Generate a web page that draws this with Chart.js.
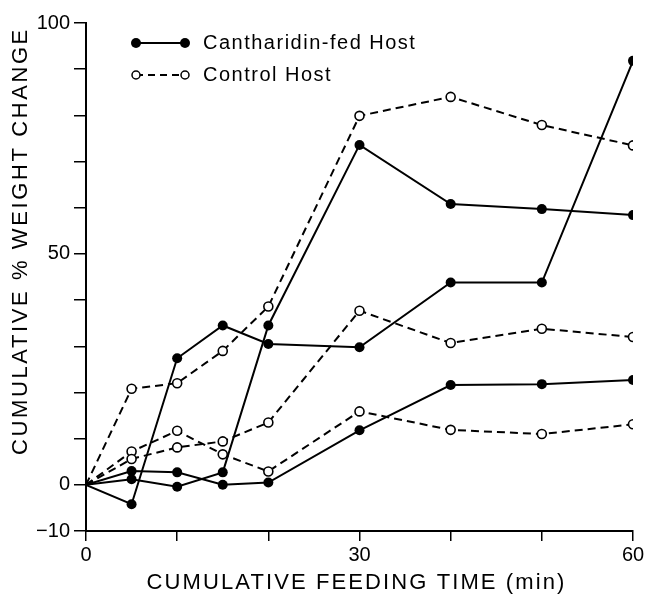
<!DOCTYPE html>
<html>
<head>
<meta charset="utf-8">
<script src="https://cdn.jsdelivr.net/npm/chart.js@4"></script>
<style>
  html, body { margin: 0; padding: 0; background: #fff; }
  #wrap { width: 651px; height: 595px; }
</style>
</head>
<body>
<div id="wrap"><canvas id="weightChart" width="651" height="595"></canvas></div>
<script>
// feeding time (min)
const times = [0, 5, 10, 15, 20, 30, 40, 50, 60];

// cantharidin-fed host, three individuals
const fedA = [0, -4.2, 27.4, 34.5, 30.5, 29.8, 43.8, 43.8, 91.8];
const fedB = [0, 1.2, -0.4, 2.7, 34.5, 73.6, 60.8, 59.7, 58.4];
const fedC = [0, 3.0, 2.7, 0, 0.5, 11.8, 21.6, 21.8, 22.7];

// control host, three individuals
const ctlA = [0, 20.8, 22.0, 29.0, 38.6, 79.9, 84.0, 77.9, 73.5];
const ctlB = [0, 5.6, 8.1, 9.4, 13.5, 37.7, 30.7, 33.8, 32.0];
const ctlC = [0, 7.2, 11.7, 6.6, 2.9, 15.9, 11.9, 11.0, 13.1];

const yLabels = [-10, 0, 50, 100];
const xLabels = [0, 30, 60];
const legendNames = ['Cantharidin-fed Host', 'Control Host'];
const xTitle = 'CUMULATIVE FEEDING TIME (min)';
const yTitle = 'CUMULATIVE % WEIGHT CHANGE';

const font = "'Liberation Sans', Arial, sans-serif";

function pts(arr) {
    return times.map((t, i) => ({ x: t, y: arr[i] }));
}

function fedSet(arr) {
    return {
        data: pts(arr),
        borderColor: '#000',
        backgroundColor: '#000',
        borderWidth: 2,
        pointRadius: times.map(t => t === 0 ? 0 : 5),
        pointBorderWidth: 0,
        pointBackgroundColor: '#000',
        tension: 0,
    };
}

function ctlSet(arr) {
    return {
        data: pts(arr),
        borderColor: '#000',
        backgroundColor: '#fff',
        borderWidth: 2,
        borderDash: [8, 5],
        pointRadius: times.map(t => t === 0 ? 0 : 4.5),
        pointBorderWidth: 1.6,
        pointBackgroundColor: '#fff',
        pointBorderColor: '#000',
        tension: 0,
    };
}

// legend with dot-line-dot samples, and the two axis titles
const paperBits = {
    id: 'paperBits',
    afterDraw(chart) {
        const c = chart.ctx;
        const area = chart.chartArea;
        c.save();
        const x0 = area.left + 50, x1 = area.left + 99, tx = area.left + 117;
        const rows = [area.top + 20, area.top + 52];
        rows.forEach((y, i) => {
            c.strokeStyle = '#000';
            c.lineWidth = 2;
            c.setLineDash(i === 0 ? [] : [7, 5]);
            c.beginPath();
            c.moveTo(x0, y);
            c.lineTo(x1, y);
            c.stroke();
            c.setLineDash([]);
            [x0, x1].forEach(px => {
                c.beginPath();
                c.arc(px, y, i === 0 ? 5 : 4, 0, Math.PI * 2);
                c.fillStyle = i === 0 ? '#000' : '#fff';
                c.fill();
                if (i === 1) { c.lineWidth = 1.5; c.stroke(); }
            });
            c.fillStyle = '#000';
            c.font = '20px ' + font;
            c.letterSpacing = '1.5px';
            c.textBaseline = 'middle';
            c.textAlign = 'left';
            c.fillText(legendNames[i], tx, y);
        });

        c.fillStyle = '#000';
        c.font = '22px ' + font;
        c.textAlign = 'center';
        c.textBaseline = 'middle';
        c.letterSpacing = '2.1px';
        c.fillText(xTitle, (area.left + area.right) / 2 - 3, 583);

        c.translate(21, 241);
        c.rotate(-Math.PI / 2);
        c.letterSpacing = '2.6px';
        c.fillText(yTitle, 0, 0);
        c.restore();
    }
};

new Chart(document.getElementById('weightChart'), {
    type: 'line',
    data: {
        datasets: [fedSet(fedA), fedSet(fedB), fedSet(fedC), ctlSet(ctlA), ctlSet(ctlB), ctlSet(ctlC)]
    },
    options: {
        responsive: false,
        animation: false,
        layout: { padding: { top: 23, right: 18, left: 0, bottom: 0 } },
        plugins: { legend: { display: false }, tooltip: { enabled: false } },
        scales: {
            x: {
                type: 'linear',
                min: 0,
                max: 60,
                afterFit: s => { s.height = 64; },
                ticks: {
                    stepSize: 10,
                    color: '#000',
                    padding: 2,
                    maxRotation: 0,
                    font: { family: font, size: 20 },
                    callback: v => xLabels.includes(v) ? String(v) : ''
                },
                grid: { display: true, drawOnChartArea: false, drawTicks: true, tickLength: 10, color: '#000', lineWidth: 1.5 },
                border: { display: true, color: '#000', width: 2 }
            },
            y: {
                min: -10,
                max: 100,
                afterFit: s => { s.width = 86; },
                ticks: {
                    stepSize: 10,
                    color: '#000',
                    padding: 4,
                    font: { family: font, size: 20 },
                    callback: v => yLabels.includes(v) ? (v < 0 ? '\u2212' + Math.abs(v) : String(v)) : ''
                },
                grid: { display: true, drawOnChartArea: false, drawTicks: true, tickLength: 12, color: '#000', lineWidth: 1.5 },
                border: { display: true, color: '#000', width: 2 }
            }
        }
    },
    plugins: [paperBits]
});
</script>
</body>
</html>
